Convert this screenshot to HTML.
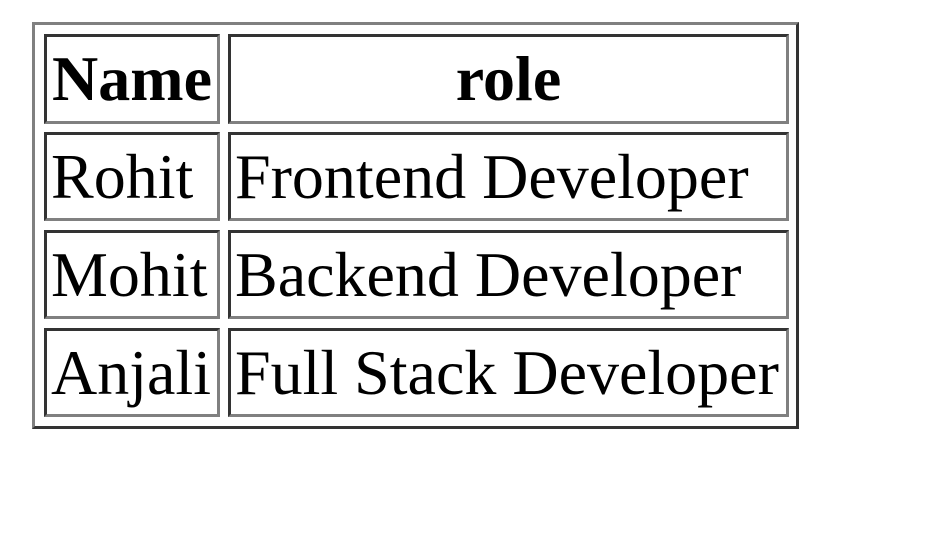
<!DOCTYPE html>
<html><head><style>
body{margin:0;background:#fff;width:939px;height:559px;position:relative;overflow:hidden;font-family:"Liberation Serif",serif;}
.o{position:absolute;left:32px;top:22px;width:761px;height:401px;border:3px solid;border-color:#808080 #333 #333 #808080;}
.c{position:absolute;box-sizing:border-box;border:3px solid;border-color:#333 #808080 #808080 #333;font-size:64px;line-height:84px;white-space:nowrap;padding-left:4px;overflow:visible;}
.h{font-weight:bold;text-align:center;padding-left:0;}
</style></head><body>
<div class="o"></div>
<div class="c h" style="left:44px;top:34px;width:176px;height:90px;">Name</div>
<div class="c h" style="left:228px;top:34px;width:561px;height:90px;">role</div>
<div class="c" style="left:44px;top:132px;width:176px;height:89px;">Rohit</div>
<div class="c" style="left:228px;top:132px;width:561px;height:89px;">Frontend Developer</div>
<div class="c" style="left:44px;top:230px;width:176px;height:89px;">Mohit</div>
<div class="c" style="left:228px;top:230px;width:561px;height:89px;">Backend Developer</div>
<div class="c" style="left:44px;top:328px;width:176px;height:89px;">Anjali</div>
<div class="c" style="left:228px;top:328px;width:561px;height:89px;">Full Stack Developer</div>
</body></html>
